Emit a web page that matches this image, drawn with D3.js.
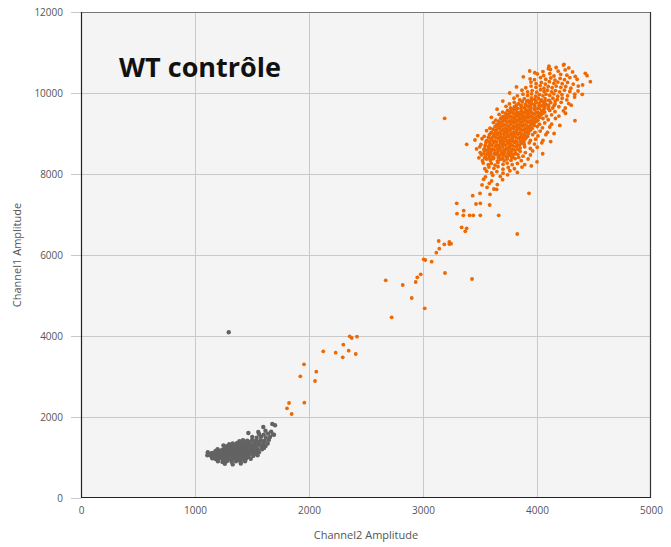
<!DOCTYPE html>
<html><head><meta charset="utf-8">
<script src="https://cdn.jsdelivr.net/npm/d3@7"></script>
<style>
html,body{margin:0;padding:0;background:#fff;}
svg{display:block;}
</style></head>
<body>
<svg id="chart" width="671" height="547"></svg>
<script>
// ---- data ----
const chartTitle = "WT contrôle";
const xLabel = "Channel2 Amplitude";
const yLabel = "Channel1 Amplitude";
const xTicks = [0, 1000, 2000, 3000, 4000, 5000];
const yTicks = [0, 2000, 4000, 6000, 8000, 10000, 12000];

// gray (negative) droplets
const grayPoints = [
[1618,1660],[1668,1640],
[1562,1580],[1603,1565],[1641,1590],[1683,1570],
[1502,1510],[1541,1490],[1579,1515],[1621,1495],[1658,1505],
[1421,1430],[1459,1415],[1501,1435],[1538,1420],[1577,1430],[1612,1415],[1648,1435],
[1331,1345],[1369,1360],[1411,1340],[1449,1355],[1481,1345],[1522,1360],[1559,1340],[1601,1355],[1638,1345],
[1279,1280],[1321,1265],[1349,1285],[1381,1270],[1409,1280],[1441,1265],[1469,1285],[1501,1270],[1539,1280],[1581,1265],[1619,1285],
[1198,1205],[1241,1190],[1269,1210],[1301,1195],[1329,1205],[1361,1190],[1389,1210],[1421,1195],[1449,1205],[1481,1190],[1509,1210],[1551,1195],[1588,1205],
[1112,1130],[1149,1115],[1181,1135],[1209,1120],[1241,1130],[1269,1115],[1301,1135],[1329,1120],[1361,1130],[1389,1115],[1421,1135],[1449,1120],[1481,1130],[1519,1115],[1561,1130],
[1108,1055],[1141,1040],[1169,1060],[1201,1045],[1229,1055],[1261,1040],[1289,1060],[1321,1045],[1349,1055],[1381,1040],[1409,1060],[1441,1045],[1469,1055],[1511,1040],[1549,1055],
[1151,980],[1179,965],[1211,985],[1239,970],[1271,980],[1299,965],[1331,985],[1359,970],[1391,980],[1419,965],[1451,985],[1489,970],
[1201,905],[1241,890],[1279,910],[1321,895],[1359,905],[1401,890],[1439,905],
[1262,845],[1331,830],[1402,850],
[1180,1160],[1215,1165],[1250,1155],[1285,1165],[1315,1160],[1345,1155],[1375,1165],[1405,1160],[1435,1155],[1465,1165],[1495,1160],[1530,1155],
[1130,1090],[1165,1095],[1195,1085],[1225,1095],[1255,1090],[1285,1085],[1315,1095],[1345,1090],[1375,1085],[1405,1095],[1435,1090],[1465,1085],[1495,1095],[1530,1090],
[1165,1015],[1195,1020],[1225,1010],[1255,1020],[1285,1015],[1315,1010],[1345,1020],[1375,1015],[1405,1010],[1435,1020],[1470,1015],
[1260,1240],[1295,1235],[1330,1245],[1365,1240],[1400,1235],[1435,1245],[1470,1240],[1505,1235],[1540,1245],
[1350,1310],[1390,1305],[1430,1315],[1470,1310],[1510,1305],[1550,1315],[1590,1310],
[1440,1390],[1480,1380],[1520,1395],[1560,1385],[1600,1390],
[1200,935],[1260,940],[1320,930],[1380,940],[1440,935],
[1300,1330],[1390,1400],[1250,1300],
[1296,4091],[1599,1753],[1678,1827],[1702,1795],[1693,1563],[1605,1235],[1468,1605],[1555,1630]
];

// orange (positive) droplets, main cluster
const orangeCluster = [
[4105,10660],[4168,10630],[4232,10690],[4279,10620],
[4052,10530],[4118,10580],[4186,10540],[4247,10570],[4312,10520],
[4003,10470],[4058,10430],[4112,10480],[4149,10420],[4208,10460],[4262,10440],[4335,10410],
[3978,10330],[4031,10380],[4077,10340],[4121,10370],[4158,10320],[4203,10360],[4241,10330],[4288,10380],[4352,10340],
[3947,10270],[3992,10230],[4038,10260],[4072,10220],[4108,10280],[4148,10240],[4183,10270],[4221,10230],[4268,10260],[4318,10220],
[3902,10130],[3948,10170],[3991,10140],[4028,10180],[4061,10120],[4098,10160],[4133,10130],[4168,10170],[4209,10140],[4252,10160],[4297,10120],[4362,10170],
[3868,10070],[3918,10030],[3958,10060],[3998,10020],[4031,10080],[4062,10040],[4091,10070],[4128,10030],[4162,10060],[4198,10030],[4241,10070],[4288,10040],
[3828,9930],[3877,9970],[3918,9940],[3952,9980],[3988,9920],[4021,9960],[4052,9930],[4079,9970],[4112,9940],[4148,9980],[4182,9920],[4219,9960],[4268,9930],[4331,9970],
[3798,9870],[3848,9830],[3889,9860],[3921,9820],[3951,9880],[3979,9840],[4012,9870],[4038,9830],[4071,9860],[4102,9820],[4139,9870],[4178,9840],[4221,9870],[4262,9830],
[3758,9730],[3801,9770],[3838,9740],[3871,9780],[3899,9720],[3932,9760],[3958,9730],[3991,9770],[4019,9740],[4052,9780],[4078,9720],[4121,9760],[4158,9730],[4212,9770],[4278,9740],
[3728,9670],[3768,9630],[3802,9660],[3829,9620],[3861,9680],[3888,9640],[3921,9670],[3948,9630],[3981,9660],[4008,9620],[4042,9680],[4068,9640],[4101,9670],[4138,9630],[4192,9660],[4248,9630],
[3698,9530],[3742,9570],[3768,9540],[3801,9580],[3828,9520],[3862,9560],[3888,9530],[3921,9570],[3948,9540],[3982,9580],[4008,9520],[4041,9560],[4068,9530],[4112,9570],[4158,9540],[4232,9560],
[3668,9470],[3712,9430],[3738,9460],[3771,9420],[3798,9480],[3832,9440],[3858,9470],[3891,9430],[3918,9460],[3951,9420],[3978,9480],[4012,9440],[4038,9470],[4082,9430],[4128,9460],[4192,9430],
[3638,9330],[3682,9370],[3708,9340],[3742,9380],[3768,9320],[3802,9360],[3828,9330],[3862,9370],[3888,9340],[3922,9380],[3948,9320],[3982,9360],[4008,9330],[4052,9370],[4098,9340],[4162,9370],
[3618,9270],[3652,9230],[3678,9260],[3712,9220],[3738,9280],[3772,9240],[3798,9270],[3832,9230],[3858,9260],[3892,9220],[3918,9280],[3952,9240],[3978,9270],[4022,9230],[4068,9260],[4128,9230],
[3588,9130],[3632,9170],[3658,9140],[3692,9180],[3718,9120],[3752,9160],[3778,9130],[3812,9170],[3838,9140],[3872,9180],[3898,9120],[3932,9160],[3958,9130],[4002,9170],[4048,9140],[4112,9160],
[3558,9070],[3602,9030],[3638,9060],[3672,9020],[3698,9080],[3732,9040],[3758,9070],[3792,9030],[3818,9060],[3852,9020],[3878,9080],[3912,9040],[3938,9070],[3982,9030],[4028,9060],[4092,9030],
[3538,8930],[3582,8970],[3618,8940],[3652,8980],[3678,8920],[3712,8960],[3738,8930],[3772,8970],[3798,8940],[3832,8980],[3858,8920],[3892,8960],[3918,8930],[3962,8970],[4008,8940],[4078,8970],
[3518,8870],[3562,8830],[3598,8860],[3632,8820],[3658,8880],[3692,8840],[3718,8870],[3752,8830],[3778,8860],[3812,8820],[3838,8880],[3872,8840],[3898,8870],[3942,8830],[3988,8860],[4052,8830],
[3508,8730],[3552,8770],[3588,8740],[3622,8780],[3648,8720],[3682,8760],[3708,8730],[3742,8770],[3768,8740],[3802,8780],[3828,8720],[3862,8760],[3888,8730],[3932,8770],[3978,8740],[4042,8770],
[3498,8670],[3542,8630],[3578,8660],[3612,8620],[3638,8680],[3672,8640],[3698,8670],[3732,8630],[3758,8660],[3792,8620],[3818,8680],[3852,8640],[3892,8670],[3942,8630],[4002,8660],
[3502,8530],[3538,8570],[3572,8540],[3598,8580],[3632,8520],[3658,8560],[3692,8530],[3718,8570],[3752,8540],[3778,8580],[3812,8520],[3852,8560],[3898,8530],[3962,8570],
[3512,8470],[3548,8430],[3582,8460],[3608,8420],[3642,8480],[3668,8440],[3702,8470],[3728,8430],[3762,8460],[3788,8420],[3832,8480],[3878,8440],[3942,8470],
[3522,8330],[3558,8370],[3592,8340],[3618,8380],[3652,8320],[3678,8360],[3712,8330],[3738,8370],[3772,8340],[3808,8380],[3862,8330],[3922,8370],
[3528,8270],[3572,8230],[3598,8260],[3632,8220],[3658,8280],[3702,8240],[3738,8270],[3782,8230],[3828,8260],[3892,8230],
[3542,8130],[3578,8170],[3622,8140],[3658,8180],[3702,8120],[3748,8160],[3802,8130],[3868,8170],
[3558,8070],[3602,8030],[3648,8060],[3702,8020],[3762,8080],[3828,8040],
[3548,7930],[3612,7970],[3678,7940],[3742,7980],
[3532,7870],[3602,7830],[3698,7860],
[3518,7730],[3582,7770],[3652,7740],
[3562,7670],[3622,7630],
[3725,9505],[3755,9490],[3785,9515],[3815,9495],[3845,9510],[3875,9490],[3905,9515],[3935,9500],[3965,9490],[3995,9510],[4025,9495],[4055,9505],
[3695,9410],[3725,9390],[3755,9405],[3785,9395],[3815,9415],[3845,9390],[3875,9410],[3905,9395],[3935,9405],[3965,9390],[3995,9410],[4025,9400],
[3665,9305],[3695,9290],[3725,9310],[3755,9295],[3785,9305],[3815,9290],[3845,9315],[3875,9295],[3905,9305],[3935,9290],[3965,9310],[3995,9300],
[3645,9210],[3675,9190],[3705,9205],[3735,9195],[3765,9215],[3795,9190],[3825,9210],[3855,9195],[3885,9205],[3915,9190],[3945,9210],[3975,9200],
[3615,9105],[3645,9090],[3675,9110],[3705,9095],[3735,9105],[3765,9090],[3795,9115],[3825,9095],[3855,9105],[3885,9090],[3915,9110],[3945,9100],
[3595,9010],[3625,8990],[3655,9005],[3685,8995],[3715,9015],[3745,8990],[3775,9010],[3805,8995],[3835,9005],[3865,8990],[3895,9010],[3925,9000],
[3575,8905],[3605,8890],[3635,8910],[3665,8895],[3695,8905],[3725,8890],[3755,8915],[3785,8895],[3815,8905],[3845,8890],[3875,8910],[3905,8900],
[3555,8810],[3585,8790],[3615,8805],[3645,8795],[3675,8815],[3705,8790],[3735,8810],[3765,8795],[3795,8805],[3825,8790],[3855,8810],[3885,8800],
[3545,8705],[3575,8690],[3605,8710],[3635,8695],[3665,8705],[3695,8690],[3725,8715],[3755,8695],[3785,8705],[3815,8690],[3845,8710],
[3535,8610],[3565,8590],[3595,8605],[3625,8595],[3655,8615],[3685,8590],[3715,8610],[3745,8595],[3775,8605],[3805,8590],[3830,8610],
[3535,8505],[3565,8490],[3595,8510],[3625,8495],[3655,8505],[3685,8490],[3715,8515],[3745,8495],[3775,8505],[3800,8490],
[3780,9610],[3820,9600],[3860,9615],[3900,9600],[3940,9610],[3980,9600],[4020,9615],[4060,9600],[4100,9610],
[3820,9700],[3860,9695],[3900,9710],[3940,9700],[3980,9705],[4020,9695],[4060,9710],[4100,9700],[4150,9690],
[3870,9800],[3910,9795],[3950,9810],[3990,9800],[4030,9805],[4070,9795],[4110,9810],[4160,9800],
[3540,8400],[3580,8395],[3620,8405],[3660,8400],[3700,8395],[3740,8405],[3780,8400],[3840,8410],
[3456,8840],[3470,8620],[3480,8950],[3490,8400],[3600,9400],[3650,9600],[3700,9800],[3760,10000],[3820,10150],[3880,10400],
[4120,8800],[4150,9000],[4200,9200],[4250,9500],[4300,9700],[4330,9900],[4360,10050],[4050,8500],[4000,8300],[3950,8200],
[4100,10600],[3980,10500],[3940,10350],[4400,10200]
];

// orange isolated droplets (rain between clusters and outliers)
const orangeScatter = [
[3339,6684],[3383,6659],[3371,6585],[3138,6346],[3187,6264],[3231,6321],[3246,6279],[3231,6272],
[3143,6156],[3117,6057],[3006,5894],[3020,5877],[3076,5835],[3193,5556],[3430,5407],[2980,5523],
[2950,5449],[2936,5333],[2673,5375],[2822,5259],[2901,4938],[3015,4684],[2725,4462],[2357,3993],
[2375,3951],[2421,3983],[2301,3785],[2125,3622],[2234,3588],[2348,3637],[2296,3474],[2410,3556],
[1956,3301],[2064,3119],[1924,3005],[2053,2889],[1825,2346],[1807,2215],[1959,2353],[1848,2074],
[3190,9375],[3936,10543],[3827,6519],[3930,7523],[3664,6980],[3296,7277],[3298,7020],[3357,7094],
[3354,6980],[3409,6980],[3441,6980],[3503,6980],[3383,8733],[4468,10279],[4424,10486],[4439,10427],
[4397,9968],[4333,9316],[4237,10708],[3436,7465],[3500,7523],[3465,7259],[3585,7235],[3588,7499],
[3503,7277],[3646,7622]
];

// ---- layout ----
const plot = {left: 81, right: 651, top: 12, bottom: 498};
const svg = d3.select("#chart");

const x = d3.scaleLinear().domain([0, 5000]).range([plot.left, plot.right]);
const y = d3.scaleLinear().domain([0, 12000]).range([plot.bottom, plot.top]);

svg.append("rect")
  .attr("x", plot.left).attr("y", plot.top)
  .attr("width", plot.right - plot.left).attr("height", plot.bottom - plot.top)
  .attr("fill", "#f4f4f4");

const grid = svg.append("g");
grid.selectAll("line.v").data(xTicks.slice(1, -1)).join("line")
  .attr("x1", d => Math.round(x(d)) + 0.5).attr("x2", d => Math.round(x(d)) + 0.5)
  .attr("y1", plot.top).attr("y2", plot.bottom)
  .attr("stroke", "#c9c9c9").attr("stroke-width", 1);
grid.selectAll("line.h").data(yTicks.slice(1, -1)).join("line")
  .attr("y1", d => Math.round(y(d)) + 0.5).attr("y2", d => Math.round(y(d)) + 0.5)
  .attr("x1", plot.left).attr("x2", plot.right)
  .attr("stroke", "#c9c9c9").attr("stroke-width", 1);

const fontFam = "'Open Sans', 'Noto Sans', sans-serif";
const yAxis = d3.axisLeft(y).tickValues(yTicks).tickFormat(d3.format("d")).tickSize(10).tickPadding(8);
const gy = svg.append("g").attr("transform", `translate(${plot.left},0)`).call(yAxis);
gy.select(".domain").remove();
gy.selectAll(".tick line").attr("stroke", "#c9c9c9");
gy.selectAll(".tick text").attr("fill", "#555").style("font-family", fontFam).style("font-size", "10px");

const xAxis = d3.axisBottom(x).tickValues(xTicks).tickFormat(d3.format("d")).tickSize(0).tickPadding(9);
const gx = svg.append("g").attr("transform", `translate(0,${plot.bottom})`).call(xAxis);
gx.select(".domain").remove();
gx.selectAll(".tick text").attr("fill", "#555").style("font-family", fontFam).style("font-size", "10px");

const pts = svg.append("g");
pts.selectAll("circle.g").data(grayPoints).join("circle")
  .attr("cx", d => x(d[0])).attr("cy", d => y(d[1])).attr("r", 2.2)
  .attr("fill", "#636363");
pts.selectAll("circle.o").data(orangeCluster.concat(orangeScatter)).join("circle")
  .attr("cx", d => x(d[0])).attr("cy", d => y(d[1])).attr("r", 1.9)
  .attr("fill", "#f06800");

svg.append("line").attr("x1", plot.left).attr("x2", plot.right).attr("y1", plot.top + 0.5).attr("y2", plot.top + 0.5)
  .attr("stroke", "#777").attr("stroke-width", 1);
svg.append("line").attr("x1", plot.right - 0.5).attr("x2", plot.right - 0.5).attr("y1", plot.top).attr("y2", plot.bottom)
  .attr("stroke", "#333").attr("stroke-width", 1.2);
svg.append("line").attr("x1", plot.left + 0.5).attr("x2", plot.left + 0.5).attr("y1", plot.top).attr("y2", plot.bottom)
  .attr("stroke", "#222").attr("stroke-width", 1.2);
svg.append("line").attr("x1", plot.left).attr("x2", plot.right).attr("y1", plot.bottom - 0.5).attr("y2", plot.bottom - 0.5)
  .attr("stroke", "#222").attr("stroke-width", 1.2);

svg.append("text").attr("x", 119).attr("y", 77)
  .style("font-family", fontFam).style("font-weight", "bold").style("font-size", "27px")
  .attr("fill", "#111").text(chartTitle);

svg.append("text").attr("x", (plot.left + plot.right) / 2).attr("y", 539)
  .attr("text-anchor", "middle").attr("fill", "#555")
  .style("font-family", fontFam).style("font-size", "11px").text(xLabel);
svg.append("text").attr("transform", `translate(21,${(plot.top + plot.bottom) / 2}) rotate(-90)`)
  .attr("text-anchor", "middle").attr("fill", "#555")
  .style("font-family", fontFam).style("font-size", "11px").text(yLabel);
</script>
</body></html>
